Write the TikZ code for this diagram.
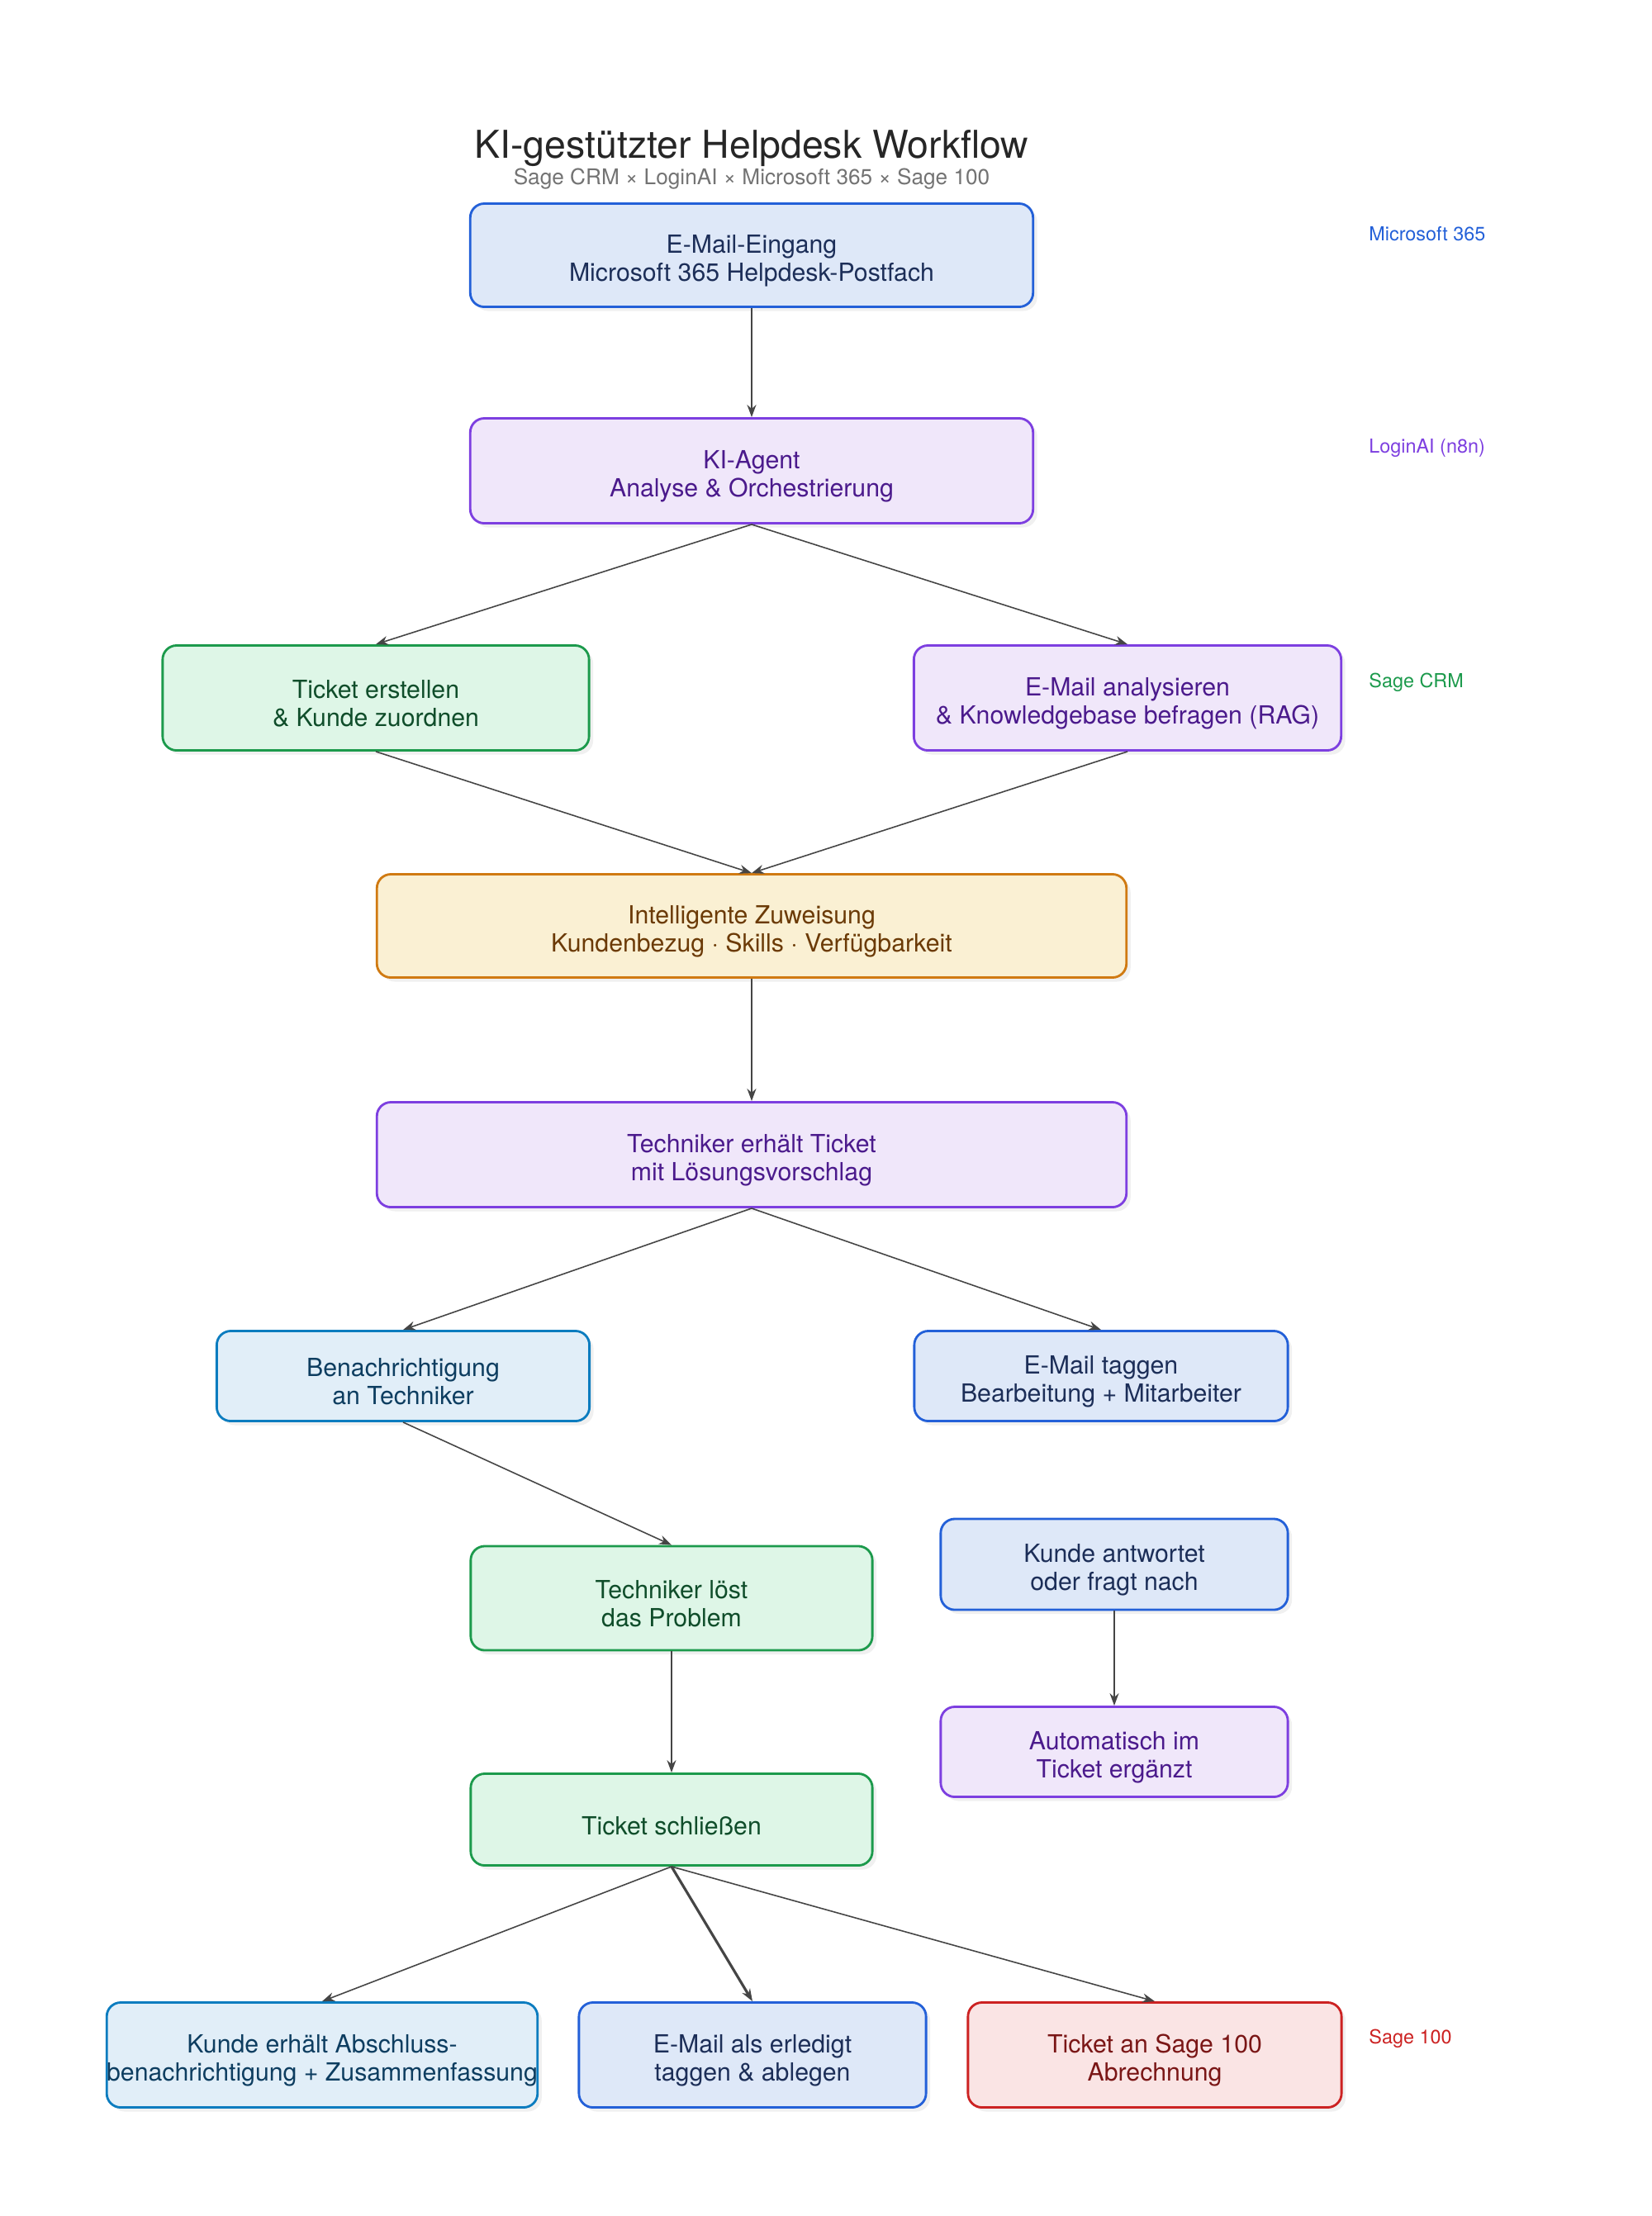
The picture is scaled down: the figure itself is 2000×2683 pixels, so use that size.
\documentclass[tikz,border=0pt]{standalone}
\usepackage{fontspec}
\setmainfont{TeX Gyre Heros}
\usetikzlibrary{arrows.meta,shadows}

% Colours of the systems
\definecolor{msline}{HTML}{2360D8}
\definecolor{msfill}{HTML}{DEE8F8}
\definecolor{mstext}{HTML}{1C2E58}
\definecolor{ailine}{HTML}{7D3FE0}
\definecolor{aifill}{HTML}{F0E7FA}
\definecolor{aitext}{HTML}{4B1A8C}
\definecolor{crmline}{HTML}{1C9A4C}
\definecolor{crmfill}{HTML}{DEF6E7}
\definecolor{crmtext}{HTML}{0F4D2A}
\definecolor{asgline}{HTML}{D07A12}
\definecolor{asgfill}{HTML}{FAF0D3}
\definecolor{asgtext}{HTML}{6B3A06}
\definecolor{notline}{HTML}{0B7CBF}
\definecolor{notfill}{HTML}{E1EEF8}
\definecolor{nottext}{HTML}{0D3D60}
\definecolor{sageline}{HTML}{CC2222}
\definecolor{sagefill}{HTML}{FAE4E4}
\definecolor{sagetext}{HTML}{7A1616}
\definecolor{arrowgray}{HTML}{454545}

\begin{document}
\begin{tikzpicture}[x=0.01cm,y=-0.01cm,>={Stealth[length=0.15cm,width=0.11cm]},
    box/.style={rectangle, rounded corners=0.17cm, line width=0.8pt, align=center,
        inner sep=0pt, font=\fontsize{8.6}{9.8}\selectfont, text height=20pt,
        drop shadow={opacity=0.12, shadow xshift=0.05cm, shadow yshift=-0.05cm}},
    msbox/.style={box, draw=msline, fill=msfill, text=mstext},
    aibox/.style={box, draw=ailine, fill=aifill, text=aitext},
    crmbox/.style={box, draw=crmline, fill=crmfill, text=crmtext},
    asgbox/.style={box, draw=asgline, fill=asgfill, text=asgtext},
    notbox/.style={box, draw=notline, fill=notfill, text=nottext},
    sagebox/.style={box, draw=sageline, fill=sagefill, text=sagetext},
    flow/.style={->, draw=arrowgray, line width=0.45pt},
    side/.style={anchor=west, font=\fontsize{6.65}{7.5}\selectfont}]

    % Fix the page
    \useasboundingbox (0,0) rectangle (2000,2683);

    % Draw title
    \node[font=\fontsize{13.2}{15}\selectfont, text=black!85] (title) at (910,180) {KI-gestützter Helpdesk Workflow};
    \node[font=\fontsize{7.45}{9}\selectfont, text=black!55] (subtitle) at (910,217) {Sage CRM × LoginAI × Microsoft 365 × Sage 100};

    % Draw steps
    \node[msbox, minimum width=6.81cm, minimum height=1.25cm] (mail) at (910,309) {E-Mail-Eingang\\Microsoft 365 Helpdesk-Postfach};
    \node[aibox, minimum width=6.81cm, minimum height=1.27cm] (agent) at (910,570) {KI-Agent\\Analyse \& Orchestrierung};
    \node[crmbox, minimum width=5.16cm, minimum height=1.27cm] (ticket) at (455,845) {Ticket erstellen\\\& Kunde zuordnen};
    \node[aibox, minimum width=5.17cm, minimum height=1.27cm] (rag) at (1365,845) {E-Mail analysieren\\\& Knowledgebase befragen (RAG)};
    \node[asgbox, minimum width=9.07cm, minimum height=1.25cm] (assign) at (910,1121) {Intelligente Zuweisung\\Kundenbezug · Skills · Verfügbarkeit};
    \node[aibox, minimum width=9.07cm, minimum height=1.27cm] (tech) at (910,1398) {Techniker erhält Ticket\\mit Lösungsvorschlag};
    \node[notbox, minimum width=4.51cm, minimum height=1.09cm] (notify) at (488,1666) {Benachrichtigung\\an Techniker};
    \node[msbox, minimum width=4.52cm, minimum height=1.09cm] (tag) at (1333,1666) {E-Mail taggen\\Bearbeitung + Mitarbeiter};
    \node[crmbox, minimum width=4.86cm, minimum height=1.26cm] (solve) at (813,1935) {Techniker löst\\das Problem};
    \node[msbox, minimum width=4.20cm, minimum height=1.10cm] (reply) at (1349,1894) {Kunde antwortet\\oder fragt nach};
    \node[aibox, minimum width=4.20cm, minimum height=1.09cm] (append) at (1349,2121) {Automatisch im\\Ticket ergänzt};
    \node[crmbox, minimum width=4.86cm, minimum height=1.11cm, text height=10.5pt] (close) at (813,2203) {Ticket schließen};
    \node[notbox, minimum width=5.16cm, minimum height=1.27cm] (summary) at (390,2488) {Kunde erhält Abschluss-\\benachrichtigung + Zusammenfassung};
    \node[msbox, minimum width=4.20cm, minimum height=1.27cm] (done) at (911,2488) {E-Mail als erledigt\\taggen \& ablegen};
    \node[sagebox, minimum width=4.52cm, minimum height=1.27cm] (billing) at (1398,2488) {Ticket an Sage 100\\Abrechnung};

    % Draw system labels
    \node[side, text=msline] (lblms) at (1645,283) {Microsoft 365};
    \node[side, text=ailine] (lblai) at (1645,543) {LoginAI (n8n)};
    \node[side, text=crmline] (lblcrm) at (1645,826) {Sage CRM};
    \node[side, text=sageline] (lblsage) at (1645,2468) {Sage 100};

    % Draw connectors
    \draw[flow] (mail) -- (agent);
    \draw[flow] (agent.south) -- (ticket.north);
    \draw[flow] (agent.south) -- (rag.north);
    \draw[flow] (ticket.south) -- (assign.north);
    \draw[flow] (rag.south) -- (assign.north);
    \draw[flow] (assign) -- (tech);
    \draw[flow] (tech.south) -- (notify.north);
    \draw[flow] (tech.south) -- (tag.north);
    \draw[flow] (notify.south) -- (solve.north);
    \draw[flow] (solve) -- (close);
    \draw[flow] (reply) -- (append);
    \draw[flow] (close.south) -- (summary.north);
    \draw[flow, line width=0.9pt] (close.south) -- (done.north);
    \draw[flow] (close.south) -- (billing.north);

\end{tikzpicture}
\end{document}
